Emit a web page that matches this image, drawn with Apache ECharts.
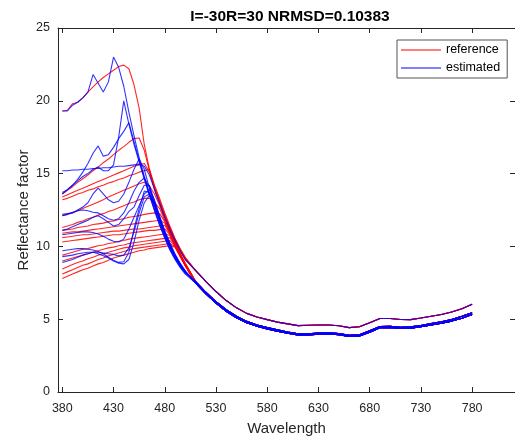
<!DOCTYPE html>
<html>
<head>
<meta charset="utf-8">
<script src="https://cdn.jsdelivr.net/npm/echarts@6.0.0/dist/echarts.min.js"></script>
<style>html,body{margin:0;padding:0;background:#fff}#c{width:515px;height:441px}</style>
</head>
<body>
<div id="c"></div>
<script>
// wavelengths (nm)
var headWl = [380,385,390,395,400,405,410,415,420,425,430,435,440,445,450,455,460,465,470,475,480,485,490,495,500];
var tailWl = [510,520,530,540,550,560,570,580,590,600,610,620,630,640,650,660,670,680,690,700,710,720,730,740,750,760,770,780];
var xTicks = [380,430,480,530,580,630,680,730,780];
var yTicks = [0,5,10,15,20,25];

// shared tails (510..780)
var tailU  = [8.35,7.6,6.9,6.28,5.78,5.4,5.15,4.97,4.8,4.68,4.56,4.58,4.6,4.6,4.55,4.42,4.48,4.75,5.05,5.05,4.98,4.97,5.08,5.2,5.32,5.5,5.72,6.02];
var tailL1 = [7.6,6.85,6.2,5.65,5.2,4.85,4.6,4.42,4.27,4.12,4.0,4.0,4.05,4.07,4.02,3.9,3.93,4.2,4.5,4.52,4.45,4.47,4.57,4.7,4.82,4.98,5.2,5.45];
var tailL2 = [7.5,6.75,6.1,5.55,5.1,4.76,4.51,4.33,4.18,4.03,3.92,3.92,3.97,3.99,3.94,3.82,3.85,4.11,4.41,4.43,4.37,4.39,4.48,4.6,4.72,4.87,5.07,5.32];

// reference spectra (380..500)
var ref1  = [19.3,19.35,19.8,19.9,20.2,20.6,20.95,21.3,21.6,21.85,22.1,22.35,22.45,22.2,21.1,19.5,17.0,15.3,14.2,13.3,12.3,11.4,10.55,9.85,9.25];
var ref2  = [13.6,13.85,14.1,14.4,14.65,14.9,15.2,15.45,15.75,16.0,16.3,16.6,16.85,17.15,17.4,17.45,16.6,15.2,14.1,13.15,12.2,11.3,10.5,9.8,9.2];
var ref3  = [13.4,13.55,13.7,13.85,14.0,14.15,14.3,14.45,14.6,14.75,14.9,15.05,15.2,15.35,15.5,15.6,15.7,15.1,14.0,13.05,12.1,11.25,10.45,9.75,9.15];
var ref4  = [13.2,13.3,13.45,13.6,13.7,13.85,13.95,14.1,14.2,14.35,14.45,14.6,14.7,14.85,14.95,15.1,15.2,15.3,13.9,12.95,12.0,11.15,10.4,9.7,9.1];
var ref5  = [12.1,12.2,12.3,12.45,12.6,12.75,12.9,13.05,13.2,13.4,13.55,13.7,13.85,14.0,14.15,14.3,14.4,14.15,13.6,12.8,11.9,11.05,10.3,9.55,8.85];
var ref6  = [11.3,11.4,11.5,11.65,11.75,11.9,12.0,12.15,12.25,12.4,12.5,12.65,12.8,12.95,13.05,13.2,13.3,13.3,13.0,12.6,11.8,11.0,10.25,9.5,8.8];
var ref7  = [11.1,11.15,11.2,11.3,11.35,11.4,11.5,11.55,11.6,11.7,11.75,11.85,11.9,12.0,12.05,12.1,12.2,12.25,12.3,12.25,11.7,10.95,10.2,9.5,8.8];
var ref8  = [10.9,10.95,11.0,11.0,11.05,11.1,11.15,11.2,11.25,11.3,11.35,11.4,11.45,11.5,11.55,11.6,11.65,11.7,11.75,11.8,11.6,10.9,10.2,9.45,8.75];
var ref9  = [10.6,10.65,10.7,10.75,10.8,10.8,10.85,10.9,10.95,11.0,11.05,11.05,11.1,11.15,11.2,11.2,11.25,11.3,11.35,11.4,11.45,10.85,10.15,9.45,8.75];
var ref10 = [10.3,10.35,10.4,10.45,10.5,10.55,10.6,10.65,10.7,10.75,10.8,10.8,10.85,10.9,10.95,11.0,11.05,11.1,11.1,11.15,11.2,10.8,10.1,9.4,8.7];
var ref11 = [9.4,9.5,9.6,9.7,9.8,9.85,9.95,10.05,10.1,10.2,10.25,10.35,10.4,10.5,10.55,10.6,10.65,10.7,10.75,10.8,10.85,10.75,10.1,9.4,8.7];
var ref12 = [9.0,9.1,9.2,9.3,9.4,9.5,9.6,9.7,9.8,9.9,9.95,10.05,10.1,10.2,10.25,10.3,10.35,10.4,10.45,10.5,10.55,10.6,10.05,9.35,8.7];
var ref13 = [8.45,8.6,8.75,8.9,9.0,9.15,9.25,9.4,9.5,9.6,9.7,9.8,9.9,9.95,10.05,10.1,10.15,10.2,10.25,10.3,10.35,10.4,10.05,9.35,8.7];
var ref14 = [8.1,8.25,8.4,8.55,8.7,8.8,8.95,9.1,9.2,9.35,9.45,9.55,9.65,9.75,9.85,9.9,9.95,10.0,10.05,10.1,10.15,10.2,10.0,9.35,8.7];
var ref15 = [7.8,7.95,8.1,8.25,8.4,8.5,8.65,8.8,8.9,9.05,9.2,9.3,9.4,9.5,9.6,9.7,9.75,9.85,9.9,9.95,10.0,10.05,9.95,9.3,8.65];

// estimated spectra (380..500)
var est1  = [19.3,19.3,19.7,19.9,20.2,20.6,21.8,21.2,20.6,21.3,23.0,22.3,21.0,19.2,17.6,16.1,14.8,13.6,12.5,11.5,10.6,9.8,9.15,8.6,8.2];
var est2  = [15.2,15.2,15.25,15.25,15.3,15.3,15.35,15.35,15.4,15.4,15.45,15.5,15.5,15.55,15.6,15.65,15.5,14.9,13.9,12.95,12.0,11.15,10.4,9.7,9.1];
var est3  = [13.7,13.9,14.2,14.5,14.8,15.0,15.3,15.45,15.2,15.2,15.6,17.5,20.0,18.4,17.0,15.8,14.6,13.5,12.45,11.45,10.55,9.75,9.1,8.55,8.1];
var est4  = [13.6,13.9,14.2,14.6,15.1,15.7,16.4,16.9,16.2,16.3,16.8,17.4,17.9,18.5,17.2,15.9,14.75,13.65,12.6,11.6,10.7,9.9,9.2,8.65,8.2];
var est5  = [12.2,12.25,12.3,12.5,12.7,13.0,13.6,14.0,13.6,13.2,13.0,13.1,13.6,14.4,15.3,16.0,15.3,14.0,12.8,11.75,10.8,10.0,9.3,8.7,8.25];
var est6  = [12.1,12.2,12.35,12.45,12.5,12.45,12.35,12.3,12.1,11.9,11.8,11.9,12.3,13.0,13.8,14.4,14.7,14.1,12.9,11.85,10.9,10.05,9.35,8.75,8.25];
var est7  = [11.1,11.2,11.35,11.5,11.65,11.8,12.0,12.1,11.9,11.65,11.4,11.5,11.9,12.4,12.7,13.5,14.2,14.2,13.1,12.0,11.0,10.15,9.4,8.8,8.3];
var est8  = [10.8,10.85,10.9,10.95,11.0,11.0,10.95,10.85,10.7,10.5,10.35,10.3,10.5,11.2,12.0,12.8,13.6,13.9,13.2,12.1,11.1,10.25,9.5,8.85,8.3];
var est9  = [9.7,9.75,9.8,9.85,9.85,9.8,9.75,9.65,9.5,9.25,9.05,8.9,8.95,9.6,11.2,12.6,13.8,13.7,12.8,11.8,10.85,10.0,9.3,8.7,8.2];
var est10 = [8.9,9.0,9.1,9.25,9.4,9.5,9.6,9.6,9.55,9.5,9.45,9.35,9.4,9.9,11.0,12.3,13.4,13.6,13.0,11.95,10.95,10.1,9.4,8.8,8.3];
var est11 = [9.3,9.35,9.4,9.5,9.55,9.6,9.6,9.5,9.35,9.2,9.0,8.85,8.8,9.1,10.3,11.8,13.0,13.5,12.9,11.9,10.9,10.05,9.35,8.75,8.25];

var refSet = [[ref1,tailU],[ref2,tailU],[ref3,tailU],[ref4,tailU],[ref5,tailL1],[ref6,tailL1],[ref7,tailL1],[ref8,tailL1],[ref9,tailL1],
              [ref10,tailL2],[ref11,tailL2],[ref12,tailL2],[ref13,tailL2],[ref14,tailL2],[ref15,tailL2]];
var estSet = [[est1,tailL1],[est2,tailU],[est3,tailL2],[est4,tailL1],[est5,tailL1],[est6,tailL2],[est7,tailL2],[est8,tailL2],
              [est9,tailL1],[est10,tailL2],[est11,tailL2]];

function pairs(head, tail){
  var out = [];
  for (var i=0;i<headWl.length;i++) out.push([headWl[i], head[i]]);
  for (var j=0;j<tailWl.length;j++) out.push([tailWl[j], tail[j]]);
  return out;
}

var series = [];
refSet.forEach(function(p){
  series.push({name:'reference', type:'line', data:pairs(p[0],p[1]), symbol:'none', showSymbol:false,
    lineStyle:{color:'#ff0000', width:1.1, opacity:0.85}, itemStyle:{color:'#ff0000'}, silent:true, z:2});
});
estSet.forEach(function(p){
  series.push({name:'estimated', type:'line', data:pairs(p[0],p[1]), symbol:'none', showSymbol:false,
    lineStyle:{color:'#0000ff', width:1.1, opacity:0.8}, itemStyle:{color:'#0000ff'}, silent:true, z:3});
});

var axisColor = '#262626';
var font = 'Liberation Sans, Arial, Helvetica, sans-serif';
var xMin = 375.8, xMax = 821.85;

var chart = echarts.init(document.getElementById('c'), null, {renderer:'canvas'});
chart.setOption({
  animation:false,
  backgroundColor:'#ffffff',
  title:{text:'I=-30R=30 NRMSD=0.10383', left:285, top:4, textAlign:'center',
    textStyle:{fontFamily:font, fontSize:15.5, fontWeight:'bold', color:'#000'}},
  legend:{data:[{name:'reference', icon:'rect', itemStyle:{color:'#ff0000'}},
                {name:'estimated', icon:'rect', itemStyle:{color:'#0000ff'}}],
    orient:'vertical', left:397, top:40,
    itemWidth:40, itemHeight:1, itemGap:4, padding:[3,7,3,4],
    borderColor:'#555555', borderWidth:1, backgroundColor:'#ffffff',
    textStyle:{fontFamily:font, fontSize:12.5, color:'#000', lineHeight:14}},
  grid:{left:58, top:28, width:458, height:365, containLabel:false},
  xAxis:[
    {type:'value', min:xMin, max:xMax, position:'bottom',
     name:'Wavelength', nameLocation:'middle', nameGap:29, nameMoveOverlap:false,
     nameTextStyle:{fontFamily:font, fontSize:15, color:axisColor},
     axisLine:{show:true, onZero:false, lineStyle:{color:axisColor, width:1}},
     axisTick:{show:true, inside:true, length:5, customValues:xTicks, lineStyle:{color:axisColor}},
     axisLabel:{show:true, customValues:xTicks, margin:10, fontFamily:font, fontSize:12.5, color:axisColor},
     splitLine:{show:false}},
    {type:'value', min:xMin, max:xMax, position:'top',
     axisLine:{show:true, onZero:false, lineStyle:{color:axisColor, width:1}},
     axisTick:{show:true, inside:true, length:5, customValues:xTicks, lineStyle:{color:axisColor}},
     axisLabel:{show:false}, splitLine:{show:false}}
  ],
  yAxis:[
    {type:'value', min:0, max:25, interval:5, position:'left',
     name:'Reflectance factor', nameLocation:'middle', nameGap:27, nameMoveOverlap:false,
     nameTextStyle:{fontFamily:font, fontSize:15, color:axisColor},
     axisLine:{show:true, onZero:false, lineStyle:{color:axisColor, width:1}},
     axisTick:{show:true, inside:true, length:5, lineStyle:{color:axisColor}},
     axisLabel:{show:true, margin:8, fontFamily:font, fontSize:12.5, color:axisColor},
     splitLine:{show:false}},
    {type:'value', min:0, max:25, interval:5, position:'right',
     axisLine:{show:true, onZero:false, lineStyle:{color:axisColor, width:1}},
     axisTick:{show:true, inside:true, length:5, lineStyle:{color:axisColor}},
     axisLabel:{show:false}, splitLine:{show:false}}
  ],
  series:series
});
</script>
</body>
</html>
